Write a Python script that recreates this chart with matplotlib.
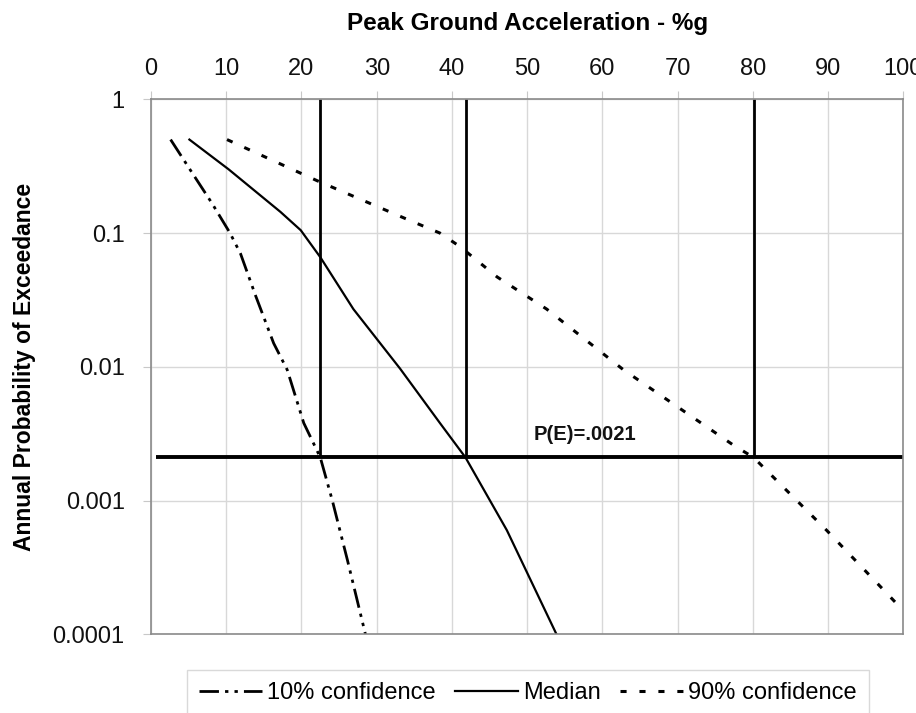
import matplotlib
matplotlib.use("Agg")
import matplotlib.pyplot as plt
from matplotlib.lines import Line2D

plt.rcParams['font.family'] = ['Liberation Sans', 'DejaVu Sans']

# ---- data ----
pga_10 = [2.6, 5.5, 8.1, 10.5, 11.9, 13.9, 16.3, 18.1, 20.3, 22.5, 24.1, 26.1, 28.5]
p_10 = [0.5, 0.28, 0.167, 0.1, 0.07, 0.034, 0.015, 0.0095, 0.0038, 0.0021, 0.001, 0.00036, 0.0001]

pga_med = [5.1, 10.3, 17.2, 19.9, 22.5, 26.9, 33.1, 38.4, 41.8, 47.3, 53.9]
p_med = [0.5, 0.3, 0.144, 0.105, 0.066, 0.027, 0.0097, 0.0038, 0.0021, 0.0006, 0.0001]

pga_90 = [10.1, 22.1, 34.0, 38.4, 41.1, 46.0, 52.6, 62.8, 77.4, 80.1, 89.8, 99.1]
p_90 = [0.5, 0.246, 0.127, 0.1, 0.079, 0.047, 0.027, 0.0095, 0.0026, 0.0021, 0.0006, 0.00017]

pe_value = 0.0021
pe_x_range = [0.7, 100]
crossing_pga = [22.5, 41.9, 80.1]

x_ticks = [0, 10, 20, 30, 40, 50, 60, 70, 80, 90, 100]
y_ticks = [1, 0.1, 0.01, 0.001, 0.0001]
y_tick_labels = ["1", "0.1", "0.01", "0.001", "0.0001"]

# ---- figure ----
fig = plt.figure(figsize=(9.16, 7.13), dpi=100)
ax = fig.add_axes([0.1649, 0.1104, 0.8212, 0.7503])

ax.set_yscale('log')
ax.set_xlim(0, 100)
ax.set_ylim(0.0001, 1)

ax.set_xticks(x_ticks)
ax.set_xticklabels([str(t) for t in x_ticks])
ax.set_yticks(y_ticks)
ax.set_yticklabels(y_tick_labels)
ax.yaxis.set_minor_locator(matplotlib.ticker.NullLocator())
ax.xaxis.tick_top()
ax.xaxis.set_label_position('top')

ax.grid(True, color='#d8d8d8', linewidth=1.0)
ax.tick_params(axis='both', which='major', direction='out', length=6,
               color='#c8c8c8', labelsize=17, labelcolor='#111111')
ax.tick_params(axis='x', pad=8)
ax.tick_params(axis='y', pad=13)
for s in ax.spines.values():
    s.set_color('#8a8a8a')
    s.set_linewidth(1.2)

dash_10 = (7, 2.2, 1.2, 2.2, 1.2, 2.2)
dash_90 = (2.0, 4.2)
ax.plot(pga_10, p_10, color='black', linewidth=2.0, dashes=dash_10,
        label='10% confidence')
ax.plot(pga_med, p_med, color='black', linewidth=1.6, label='Median')
ax.plot(pga_90, p_90, color='black', linewidth=2.2, dashes=dash_90,
        label='90% confidence')

for xc in crossing_pga:
    ax.plot([xc, xc], [1, pe_value], color='black', linewidth=2.0,
            clip_on=False, solid_capstyle='butt')
ax.plot(pe_x_range, [pe_value, pe_value], color='black', linewidth=2.8,
        solid_capstyle='butt')

ax.text(50.8, 0.0031, "P(E)=.0021", fontsize=14.5, fontweight='bold',
        ha='left', va='center', color='#111111')

ax.set_xlabel("Peak Ground Acceleration - %g", fontsize=17.5, fontweight='bold',
              labelpad=20)
ax.set_ylabel("Annual Probability of Exceedance", fontsize=16.5, fontweight='bold',
              labelpad=12)

handles = [
    Line2D([], [], color='black', linewidth=2.0, dashes=dash_10),
    Line2D([], [], color='black', linewidth=1.6),
    Line2D([], [], color='black', linewidth=2.2, dashes=dash_90),
]
leg = fig.legend(handles, ['10% confidence', 'Median', '90% confidence'],
                 loc='center', bbox_to_anchor=(0.576, 0.028), ncol=3,
                 fontsize=17, frameon=True, fancybox=False, shadow=False,
                 handlelength=2.7, handletextpad=0.2, columnspacing=0.8,
                 borderpad=0.5, edgecolor='#d0d0d0')
leg.get_frame().set_linewidth(1.0)

fig.savefig('out.png', dpi=100)
